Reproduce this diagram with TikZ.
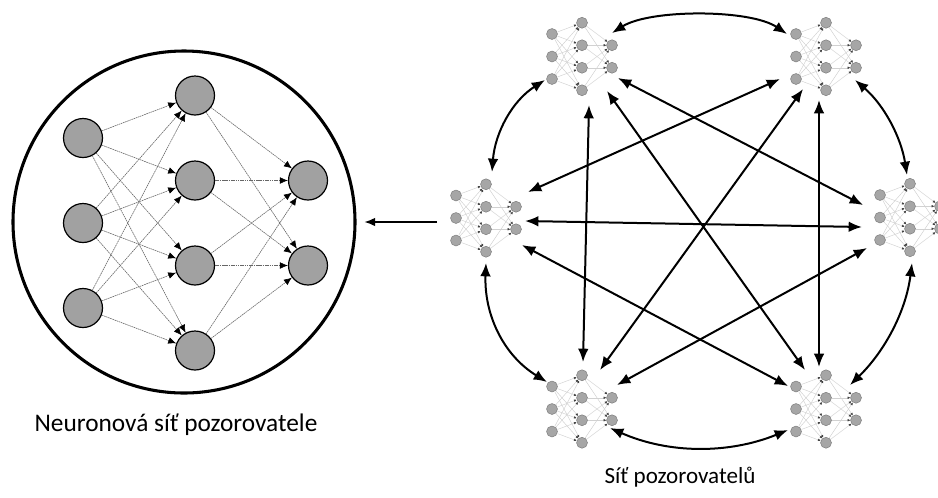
\documentclass[tikz,border=0pt]{standalone}
\usepackage{fontspec}
\setmainfont{Carlito}
\usetikzlibrary{arrows.meta}
\tikzset{
 big/.style={circle, minimum size=29.25pt, inner sep=0pt, fill=black!37, draw=black, line width=0.9pt},
 bige/.style={draw=black!60, line width=0.45pt, dash pattern=on 1.2pt off 0.5pt, -{Latex[length=6pt,width=5pt,color=black]}},
 sn/.style={circle, minimum size=8.2pt, inner sep=0pt, fill=black!35, draw=black!50, line width=0.4pt},
 se/.style={draw=black!18, line width=0.35pt, -{Latex[length=2pt,width=2pt,color=black!75]}},
 link/.style={line width=1.5pt, {Latex[length=10pt,width=8pt]}-{Latex[length=10pt,width=8pt]}},
 lbl/.style={inner sep=0pt}
}
\newcommand{\smallnet}[3]{%
 \begin{scope}[shift={(#2,#3)}]
 \foreach \k/\dy in {1/-22.5,2/0,3/22.5} \node[sn] (#1i\k) at (-30,\dy) {};
 \foreach \k/\dy in {1/-33.75,2/-11.25,3/11.25,4/33.75} \node[sn] (#1h\k) at (0,\dy) {};
 \foreach \k/\dy in {1/-11.25,2/11.25} \node[sn] (#1o\k) at (30,\dy) {};
 \foreach \a in {1,2,3} \foreach \b in {1,...,4} \draw[se] (#1i\a) -- (#1h\b);
 \foreach \a in {1,...,4} \foreach \b in {1,2} \draw[se] (#1h\a) -- (#1o\b);
 \end{scope}}
\begin{document}
\begin{tikzpicture}[x=0.75pt,y=-0.75pt]
\useasboundingbox (0,0) rectangle (938,497);
% observer network in circle
\node[circle, draw, line width=2.3pt, minimum size=256.5pt, inner sep=0pt] (obs) at (184,222) {};
\node[big] (bi1) at (83,138) {};
\node[big] (bi2) at (83,223) {};
\node[big] (bi3) at (83,308) {};
\node[big] (bh1) at (195,95.5) {};
\node[big] (bh2) at (195,180.5) {};
\node[big] (bh3) at (195,265.5) {};
\node[big] (bh4) at (195,350.5) {};
\node[big] (bo1) at (308,180.5) {};
\node[big] (bo2) at (308,265.5) {};
\foreach \a in {1,2,3} \foreach \b in {1,...,4} \draw[bige] (bi\a) -- (bh\b);
\foreach \a in {1,...,4} \foreach \b in {1,2} \draw[bige] (bh\a) -- (bo\b);
% small networks
\smallnet{TL}{582}{56.5}
\smallnet{TR}{826}{56.5}
\smallnet{L}{486}{218}
\smallnet{R}{910}{217.5}
\smallnet{BL}{582}{409}
\smallnet{BR}{826}{409}
% arrow to observer
\coordinate (Lout) at (437,222);
\draw[line width=1pt, -{Latex[length=8pt,width=6.5pt]}, shorten >=6pt] (Lout) -- (obs.east);
% arcs between neighbours
\coordinate (aTLtr) at (612,33); \coordinate (aTRtl) at (787,34);
\draw[link] (aTLtr) .. controls (650,9) and (750,9) .. (aTRtl);
\coordinate (aTRr) at (855,80); \coordinate (aRtr) at (907,175);
\draw[link] (aTRr) .. controls (884,105) and (901,137) .. (aRtr);
\coordinate (aRbr) at (912,263); \coordinate (aBRr) at (850,385);
\draw[link] (aRbr) .. controls (906,311) and (885,351) .. (aBRr);
\coordinate (aBRbl) at (788,430); \coordinate (aBLbr) at (610,428);
\draw[link] (aBRbl) .. controls (729,454) and (669,454) .. (aBLbr);
\coordinate (aBLl) at (547,382); \coordinate (aLbl) at (486,263);
\draw[link] (aBLl) .. controls (503,355) and (484,314) .. (aLbl);
\coordinate (aLtl) at (492,172); \coordinate (aTLl) at (545,80);
\draw[link] (aLtl) .. controls (495,133) and (512,101) .. (aTLl);
% straight links
\coordinate (sTLbl) at (589,105); \coordinate (sBLtl) at (583,362);
\draw[link] (sTLbl) -- (sBLtl);
\coordinate (sTLbr) at (607,91); \coordinate (sBRtl) at (805,370);
\draw[link] (sTLbr) -- (sBRtl);
\coordinate (sTLr) at (618,78); \coordinate (sRtl) at (863,205);
\draw[link] (sTLr) -- (sRtl);
\coordinate (sTRl) at (780,79); \coordinate (sLtr) at (528,192);
\draw[link] (sTRl) -- (sLtr);
\coordinate (sLr) at (525,221); \coordinate (sRl) at (862,227);
\draw[link] (sLr) -- (sRl);
\coordinate (sTRbr) at (819,100); \coordinate (sBRtr) at (819,367);
\draw[link] (sTRbr) -- (sBRtr);
\coordinate (sTRbl) at (803,89); \coordinate (sBLtr) at (600,370);
\draw[link] (sTRbl) -- (sBLtr);
\coordinate (sLbr) at (522,245); \coordinate (sBRl) at (788,386);
\draw[link] (sLbr) -- (sBRl);
\coordinate (sRbl) at (867,248); \coordinate (sBLr) at (617,385);
\draw[link] (sRbl) -- (sBLr);
% labels
\node[lbl, font=\fontsize{19}{22}\selectfont] (lab1) at (176,425) {Neuronová síť pozorovatele};
\node[lbl, font=\fontsize{17.3}{20}\selectfont] (lab2) at (680,477) {Síť pozorovatelů};
\end{tikzpicture}
\end{document}
